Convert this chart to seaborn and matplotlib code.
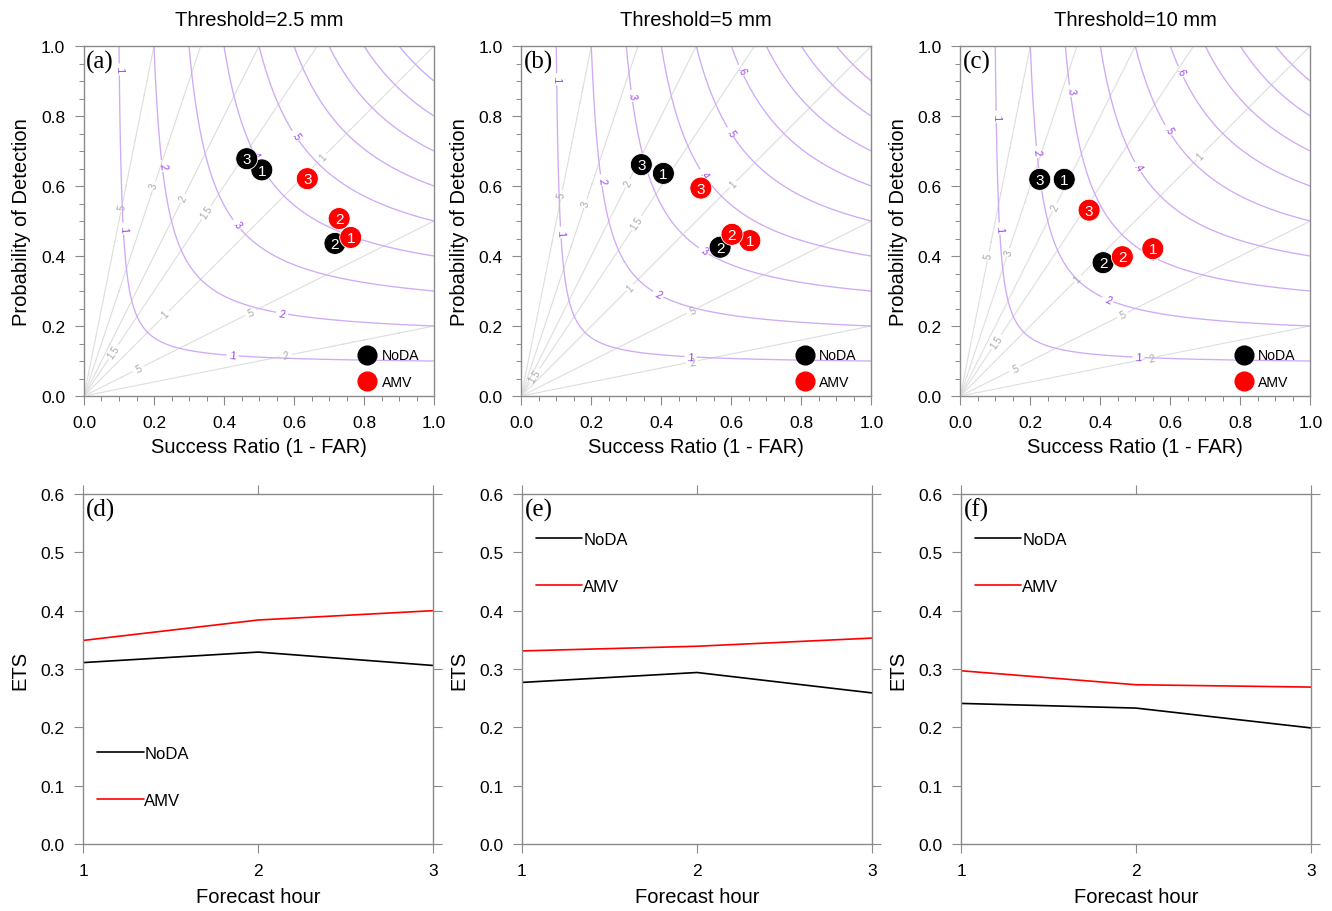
import numpy as np
import pandas as pd
import matplotlib
matplotlib.use("Agg")
import matplotlib.pyplot as plt
from matplotlib.lines import Line2D
from matplotlib.ticker import MultipleLocator
import seaborn as sns

sns.set_theme(style="white")
plt.rcParams["font.family"] = ["Liberation Sans", "DejaVu Sans"]
plt.rcParams["text.color"] = "black"
plt.rcParams["axes.labelcolor"] = "black"

# ---------------- data ----------------
thresholds = ["2.5", "5", "10"]
panel_top = ["(a)", "(b)", "(c)"]
panel_bot = ["(d)", "(e)", "(f)"]
experiments = ["NoDA", "AMV"]
hours = [1, 2, 3]

# success ratio / POD for forecast hours 1, 2, 3
noda_sr = [[0.508, 0.717, 0.465], [0.406, 0.568, 0.343], [0.297, 0.408, 0.227]]
noda_pod = [[0.646, 0.436, 0.678], [0.636, 0.425, 0.661], [0.619, 0.381, 0.619]]
amv_sr = [[0.762, 0.729, 0.638], [0.653, 0.602, 0.513], [0.550, 0.463, 0.368]]
amv_pod = [[0.453, 0.507, 0.621], [0.444, 0.462, 0.594], [0.421, 0.398, 0.531]]

# equitable threat score for forecast hours 1, 2, 3
noda_ets = [[0.311, 0.329, 0.306], [0.277, 0.294, 0.259], [0.241, 0.233, 0.199]]
amv_ets = [[0.349, 0.384, 0.400], [0.331, 0.339, 0.353], [0.297, 0.273, 0.269]]

csi_levels = [0.1, 0.2, 0.3, 0.4, 0.5, 0.6, 0.7, 0.8, 0.9]
bias_levels = [0.2, 0.5, 1.0, 1.5, 2.0, 3.0, 5.0]

# ---------------- style ----------------
colors = {"NoDA": "black", "AMV": "red"}
frame_col = "#8a8a8a"
csi_col = "#cfaaf7"
csi_lab_col = "#9a3cf0"
bias_col = "#dedede"
bias_lab_col = "#a8a8a8"

# contour label anchor points (success ratio, POD) per panel
csi_label_pos = [
    [(0.098, 0.933), (0.11, 0.478), (0.424, 0.112), (0.221, 0.657), (0.565, 0.233),
     (0.434, 0.488), (0.489, 0.69), (0.603, 0.743)],
    [(0.099, 0.905), (0.109, 0.467), (0.484, 0.114), (0.227, 0.616), (0.391, 0.29),
     (0.312, 0.857), (0.52, 0.412), (0.52, 0.633), (0.596, 0.752), (0.625, 0.929)],
    [(0.099, 0.798), (0.109, 0.478), (0.509, 0.108), (0.216, 0.697), (0.42, 0.273),
     (0.307, 0.871), (0.55, 0.40), (0.504, 0.652), (0.594, 0.759), (0.625, 0.924)],
]
bias_label_pos = [
    [(0.108, 0.54), (0.2, 0.6), (0.282, 0.564), (0.35, 0.525), (0.084, 0.126),
     (0.682, 0.682), (0.233, 0.233), (0.476, 0.238), (0.155, 0.078), (0.577, 0.115)],
    [(0.115, 0.575), (0.183, 0.549), (0.304, 0.608), (0.33, 0.495), (0.039, 0.058),
     (0.605, 0.605), (0.31, 0.31), (0.489, 0.245), (0.488, 0.098)],
    [(0.08, 0.4), (0.137, 0.411), (0.27, 0.54), (0.335, 0.335), (0.685, 0.685),
     (0.463, 0.232), (0.103, 0.154), (0.156, 0.078), (0.546, 0.109)],
]


def short_fmt(v):
    s = f"{v:g}"
    return s[1:] if s.startswith("0.") else s


fig = plt.figure(figsize=(13.32, 9.12), dpi=100)
W, H = 1332.0, 912.0
top_left = [84, 521.3, 960.3]
bot_left = [83.3, 522, 961]
size_w, size_h = 350 / W, 350 / H

# grid for the performance-diagram background
sr = np.linspace(0.002, 1.0, 500)
pod = np.linspace(0.002, 1.0, 500)
SR, POD = np.meshgrid(sr, pod)
CSI = 1.0 / (1.0 / SR + 1.0 / POD - 1.0)
BIAS = POD / SR

for i in range(3):
    # ---------- performance diagram ----------
    ax = fig.add_axes([top_left[i] / W, (H - 397) / H, size_w, size_h])
    cb = ax.contour(SR, POD, BIAS, levels=bias_levels, colors=bias_col, linewidths=0.8,
                    zorder=1)
    ax.clabel(cb, manual=bias_label_pos[i], fmt=short_fmt, fontsize=7,
              colors=bias_lab_col, inline=True, inline_spacing=2)
    cc = ax.contour(SR, POD, CSI, levels=csi_levels, colors=csi_col, linewidths=0.95,
                    zorder=2)
    ax.clabel(cc, manual=csi_label_pos[i], fmt=short_fmt, fontsize=7,
              colors=csi_lab_col, inline=True, inline_spacing=2)

    df = pd.DataFrame({
        "sr": noda_sr[i] + amv_sr[i],
        "pod": noda_pod[i] + amv_pod[i],
        "exp": ["NoDA"] * 3 + ["AMV"] * 3,
        "hour": hours + hours,
    })
    sns.scatterplot(data=df, x="sr", y="pod", hue="exp", palette=colors, s=250,
                    edgecolor="white", linewidth=0.6, legend=False, ax=ax, zorder=5)
    for _, r in df.iterrows():
        ax.text(r["sr"], r["pod"] - 0.002, str(r["hour"]), color="white", fontsize=11,
                ha="center", va="center", zorder=6)

    handles = [Line2D([], [], ls="none", marker="o", markersize=13.5, color=colors[e],
                      markeredgecolor=colors[e]) for e in experiments]
    ax.legend(handles, experiments, loc="lower left", bbox_to_anchor=(0.765, -0.005),
              frameon=False, fontsize=10.2, handlelength=1.0, handletextpad=0.5,
              labelspacing=0.9, borderaxespad=0.2)

    ax.set_xlim(0, 1)
    ax.set_ylim(0, 1)
    ax.set_xticks(np.arange(0, 1.01, 0.2))
    ax.set_yticks(np.arange(0, 1.01, 0.2))
    ax.xaxis.set_minor_locator(MultipleLocator(0.05))
    ax.yaxis.set_minor_locator(MultipleLocator(0.05))
    ax.set_xticklabels([f"{v:.1f}" for v in np.arange(0, 1.01, 0.2)])
    ax.set_yticklabels([f"{v:.1f}" for v in np.arange(0, 1.01, 0.2)])
    ax.tick_params(which="major", direction="out", length=6.5, width=0.8,
                   color=frame_col, labelcolor="black", pad=7, labelsize=12.5,
                   bottom=True, left=True, top=False, right=False)
    ax.tick_params(which="minor", direction="out", length=3.5, width=0.7,
                   color=frame_col, bottom=True, left=True, top=False, right=False)
    for sp in ax.spines.values():
        sp.set_color(frame_col)
        sp.set_linewidth(1.0)
    ax.set_xlabel("Success Ratio (1 - FAR)", fontsize=14.5, labelpad=5)
    ax.set_ylabel("Probability of Detection", fontsize=14.5, labelpad=7)
    ax.set_title(f"Threshold={thresholds[i]} mm", fontsize=14.5, pad=15, color="black")
    ax.text(0.006, 0.99, panel_top[i], transform=ax.transAxes, ha="left", va="top",
            fontsize=18, family="Liberation Serif", zorder=7)

    # ---------- ETS time series ----------
    bx = fig.add_axes([bot_left[i] / W, (H - 845) / H, size_w, size_h])
    de = pd.DataFrame({
        "hour": hours + hours,
        "ets": noda_ets[i] + amv_ets[i],
        "exp": ["NoDA"] * 3 + ["AMV"] * 3,
    })
    sns.lineplot(data=de, x="hour", y="ets", hue="exp", palette=colors, linewidth=1.2,
                 legend=False, ax=bx)
    lh = [Line2D([], [], color=colors[e], lw=1.2) for e in experiments]
    if i == 0:
        bx.legend(lh, experiments, loc="lower left", bbox_to_anchor=(0.02, 0.085),
                  frameon=False, fontsize=12, handlelength=2.8, handletextpad=0.05,
                  labelspacing=1.9, borderaxespad=0.0)
    else:
        bx.legend(lh, experiments, loc="upper left", bbox_to_anchor=(0.02, 0.91),
                  frameon=False, fontsize=12, handlelength=2.8, handletextpad=0.05,
                  labelspacing=1.9, borderaxespad=0.0)
    bx.set_xlim(1, 3)
    bx.set_ylim(0, 0.6)
    bx.set_xticks(hours)
    bx.set_yticks(np.arange(0, 0.61, 0.1))
    bx.set_yticklabels([f"{v:.1f}" for v in np.arange(0, 0.61, 0.1)])
    bx.tick_params(which="major", direction="out", length=6.5, width=0.8,
                   color=frame_col, labelcolor="black", pad=7, labelsize=12.5,
                   bottom=True, left=True, top=True, right=True)
    for sp in bx.spines.values():
        sp.set_color(frame_col)
        sp.set_linewidth(1.0)
    bx.set_xlabel("Forecast hour", fontsize=14.5, labelpad=7)
    bx.set_ylabel("ETS", fontsize=14.5, labelpad=8)
    bx.text(0.008, 0.99, panel_bot[i], transform=bx.transAxes, ha="left", va="top",
            fontsize=18, family="Liberation Serif")

fig.savefig("out.png", dpi=100, facecolor="white")
